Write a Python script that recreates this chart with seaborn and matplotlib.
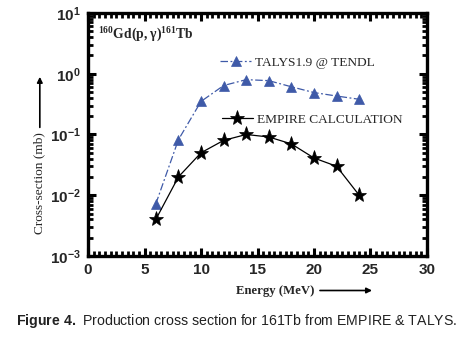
import matplotlib
matplotlib.use("Agg")
import matplotlib.pyplot as plt
from matplotlib.ticker import FixedLocator, MultipleLocator, FuncFormatter, LogLocator, NullFormatter
import numpy as np
import pandas as pd
import seaborn as sns

# Proton energy (MeV) and cross sections (mb)
energy = [6, 8, 10, 12, 14, 16, 18, 20, 22, 24]
talys_xs = [0.0072, 0.082, 0.35, 0.64, 0.80, 0.77, 0.61, 0.49, 0.43, 0.38]
empire_xs = [0.0040, 0.020, 0.050, 0.080, 0.100, 0.091, 0.070, 0.041, 0.030, 0.010]
talys_label = "TALYS1.9 @ TENDL"
empire_label = "EMPIRE CALCULATION"
x_ticks = [0, 5, 10, 15, 20, 25, 30]
y_decades = [-3, -2, -1, 0, 1]

sns.set_style("ticks")
plt.rcParams["font.family"] = ["Liberation Sans", "DejaVu Sans"]
plt.rcParams["mathtext.fontset"] = "custom"
plt.rcParams["mathtext.bf"] = "Liberation Sans:bold"
plt.rcParams["mathtext.rm"] = "Liberation Sans"
plt.rcParams["mathtext.sf"] = "Liberation Serif:bold"

df = pd.DataFrame({"energy": energy, "talys": talys_xs, "empire": empire_xs})

fig = plt.figure(figsize=(4.74, 3.37), dpi=100)
ax = fig.add_axes([0.1857, 0.2404, 0.7151, 0.7210])

blue = "#3f5aa8"
sns.lineplot(data=df, x="energy", y="talys", ax=ax, color=blue, linestyle=(0, (6, 2, 1.5, 2)),
             linewidth=0.9, marker="^", markersize=6.5, markeredgewidth=0.5,
             markeredgecolor=blue, markerfacecolor=blue, label=talys_label, legend=False)
sns.lineplot(data=df, x="energy", y="empire", ax=ax, color="black", linestyle="-",
             linewidth=0.9, marker="*", markersize=11, markeredgewidth=0.5,
             markeredgecolor="black", markerfacecolor="black", label=empire_label, legend=False)

ax.set_yscale("log")
ax.set_xlim(0, 30)
ax.set_ylim(10.0 ** y_decades[0], 10.0 ** y_decades[-1])

ax.xaxis.set_major_locator(FixedLocator(x_ticks))
ax.xaxis.set_minor_locator(MultipleLocator(0.5))
ax.yaxis.set_major_locator(FixedLocator([10.0 ** d for d in y_decades]))
ax.yaxis.set_minor_locator(LogLocator(base=10, subs=np.arange(2, 10), numticks=20))
ax.yaxis.set_minor_formatter(NullFormatter())
ax.yaxis.set_major_formatter(FuncFormatter(lambda v, p: r"$\mathbf{10^{%d}}$" % round(np.log10(v))))

for side in ["left", "right", "top", "bottom"]:
    ax.spines[side].set_linewidth(2.4)
    ax.spines[side].set_color("black")
ax.tick_params(which="both", direction="in", top=True, right=True, color="black")
ax.tick_params(which="major", length=6, width=2.2, labelsize=11, pad=5)
ax.tick_params(which="minor", length=3.5, width=2.0)
for lab in ax.get_xticklabels():
    lab.set_fontweight("bold")

ax.set_xlabel("")
ax.set_ylabel("")

# Legend entries placed as two separate boxes
lines = ax.get_lines()
leg_kw = dict(frameon=False, prop={"family": "Liberation Serif", "size": 9.6},
              handlelength=2.3, handletextpad=0.3, borderaxespad=0, markerscale=1.0)
leg1 = ax.legend([lines[0]], [talys_label], loc="center left",
                 bbox_to_anchor=(0.375, 0.795), **leg_kw)
ax.add_artist(leg1)
ax.legend([lines[1]], [empire_label], loc="center left",
          bbox_to_anchor=(0.38, 0.56), **leg_kw)

ax.text(0.028, 0.915, r"$^{\mathsf{160}}$Gd(p, γ)$^{\mathsf{161}}$Tb", transform=ax.transAxes,
        fontfamily="Liberation Serif", fontweight="bold", fontsize=9.8, va="center", ha="left")

# Axis titles with direction arrows
fig.text(0.581, 0.136, "Energy (MeV)", fontfamily="Liberation Serif", fontweight="bold",
         fontsize=9.2, ha="center", va="center")
ax.annotate("", xy=(0.785, 0.138), xytext=(0.675, 0.138), xycoords="figure fraction",
            arrowprops=dict(arrowstyle="-|>", color="black", lw=1.2, mutation_scale=8,
                            shrinkA=0, shrinkB=0))
fig.text(0.083, 0.458, "Cross-section (mb)", fontfamily="Liberation Serif", fontsize=9.6,
         rotation=90, ha="center", va="center")
ax.annotate("", xy=(0.084, 0.772), xytext=(0.084, 0.622), xycoords="figure fraction",
            arrowprops=dict(arrowstyle="-|>", color="black", lw=1.2, mutation_scale=8,
                            shrinkA=0, shrinkB=0))

fig.text(0.5, 0.047, r"$\mathbf{Figure\ 4.}$ Production cross section for 161Tb from EMPIRE & TALYS.",
         fontfamily=["Liberation Sans", "DejaVu Sans"], fontsize=10.2,
         ha="center", va="center", color="#222222")

fig.savefig("out.png", dpi=100)
